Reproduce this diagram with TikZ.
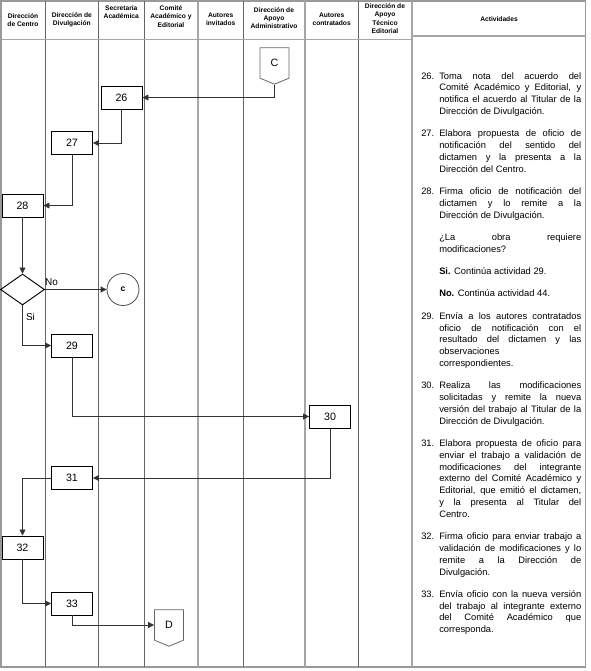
\documentclass[tikz,border=0pt]{standalone}
\usepackage{fontspec}
\setmainfont{Liberation Sans}
\usetikzlibrary{arrows.meta,shapes.geometric,shapes.symbols}

\newcommand{\actividad}[2]{\hangindent=13.5pt\hangafter=1\noindent\makebox[13.5pt][l]{#1}#2\par}
\newcommand{\nota}[1]{\hangindent=13.5pt\hangafter=0\noindent #1\par}

\tikzset{
  caja/.style={draw=black, line width=0.7pt, minimum width=30.75pt, minimum height=17.25pt,
    inner sep=0pt, font=\fontsize{8}{9.6}\selectfont},
  decision/.style={draw=black, line width=0.7pt, diamond, minimum width=33pt, minimum height=23.25pt,
    inner sep=0pt},
  circulo/.style={draw=black!70, line width=0.6pt, circle, minimum size=24pt, inner sep=0pt,
    font=\fontsize{6.5}{7}\selectfont\bfseries},
  conector/.style={draw=black!60, line width=0.6pt, signal, signal to=south, signal pointer angle=135,
    minimum width=21.75pt, minimum height=24pt, inner sep=0pt, font=\fontsize{8}{9.6}\selectfont},
  flecha/.style={draw=black!80, line width=0.6pt, -{Triangle[length=4.5pt,width=4.5pt]}},
  carril/.style={draw=black!60, line width=0.6pt},
  carril claro/.style={draw=black!35, line width=0.9pt},
  encabezado/.style={font=\fontsize{5}{6.2}\selectfont\bfseries, align=center, inner sep=0pt},
  etiqueta/.style={font=\fontsize{7.5}{9}\selectfont, inner sep=0pt},
  actividades/.style={anchor=base west, text width=120pt, align=justify, inner sep=0pt,
    font=\fontsize{7}{8.85}\selectfont}
}

\begin{document}
\begin{tikzpicture}[x=0.75pt, y=-0.75pt]
  \useasboundingbox (0,0) rectangle (590,671);

  % carriles
  \draw[draw=black!40, line width=1.1pt] (1,1) rectangle (585.7,667);
  \foreach \x in {45.3,98.3,144.3,243.3,358.3}
    \draw[carril] (\x,1) -- (\x,667);
  \foreach \x in {198,305,412}
    \draw[carril claro] (\x,1) -- (\x,667);
  \draw[carril claro] (1,39.5) -- (412,39.5);
  \draw[carril claro] (412,36) -- (585.7,36);

  % encabezados
  \node[encabezado] (h1) at (23,20) {Dirección\\de Centro};
  \node[encabezado] (h2) at (71.8,20) {Dirección de\\Divulgación};
  \node[encabezado] (h3) at (121.3,12) {Secretaria\\Académica};
  \node[encabezado] (h4) at (171,16.5) {Comité\\Académico y\\Editorial};
  \node[encabezado] (h5) at (220.7,19.5) {Autores\\invitados};
  \node[encabezado] (h6) at (274,18) {Dirección de\\Apoyo\\Administrativo};
  \node[encabezado] (h7) at (331.7,19.5) {Autores\\contratados};
  \node[encabezado] (h8) at (385,18.5) {Dirección de\\Apoyo\\Técnico\\Editorial};
  \node[encabezado] (h9) at (499,19) {Actividades};

  % diagrama
  \node[conector] (C) at (274.5,63) {C};
  \node[caja] (n26) at (121.5,97.5) {26};
  \node[caja] (n27) at (72,143) {27};
  \node[caja] (n28) at (22.5,205.5) {28};
  \node[decision] (dec) at (22.5,289.5) {};
  \node[circulo] (cc) at (123,289.5) {c};
  \node[caja] (n29) at (72,345.5) {29};
  \node[caja] (n30) at (330,416.5) {30};
  \node[caja] (n31) at (72,478) {31};
  \node[caja] (n32) at (22.5,547.5) {32};
  \node[caja] (n33) at (72,603.5) {33};
  \node[conector] (D) at (169,625) {D};

  \node[etiqueta] (no) at (51.5,282) {No};
  \node[etiqueta] (si) at (30.5,317) {Si};

  \draw[flecha] (C) |- (n26);
  \draw[flecha] (n26) |- (n27);
  \draw[flecha] (n27) |- (n28);
  \draw[flecha] (n28) -- (dec);
  \draw[flecha] (dec) -- (cc);
  \draw[flecha] (dec) |- (n29);
  \draw[flecha] (n29) |- (n30);
  \draw[flecha] (n30) |- (n31);
  \draw[flecha] (n31) -| (n32);
  \draw[flecha] (n32) |- (n33);
  \draw[flecha] (n33) |- (D);

  % actividades
  \node[actividades] (act) at (421,79) {\setlength{\parskip}{7.9pt}\tolerance=10000
    \actividad{26.}{Toma nota del acuerdo del\linebreak Comité Académico y Editorial, y\linebreak notifica el acuerdo al Titular de la\linebreak Dirección de Divulgación.}
    \actividad{27.}{Elabora propuesta de oficio de\linebreak notificación del sentido del\linebreak dictamen y la presenta a la\linebreak Dirección del Centro.}
    \actividad{28.}{Firma oficio de notificación del\linebreak dictamen y lo remite a la\linebreak Dirección de Divulgación.}
    \nota{¿La obra requiere\linebreak modificaciones?}
    \nota{\textbf{Si.} Continúa actividad 29.}
    \nota{\textbf{No.} Continúa actividad 44.}
    \actividad{29.}{Envía a los autores contratados\linebreak oficio de notificación con el\linebreak resultado del dictamen y las\linebreak observaciones\newline correspondientes.}
    \actividad{30.}{Realiza las modificaciones\linebreak solicitadas y remite la nueva\linebreak versión del trabajo al Titular de la\linebreak Dirección de Divulgación.}
    \actividad{31.}{Elabora propuesta de oficio para\linebreak enviar el trabajo a validación de\linebreak modificaciones del integrante\linebreak externo del Comité Académico y\linebreak Editorial, que emitió el dictamen,\linebreak y la presenta al Titular del\linebreak Centro.}
    \actividad{32.}{Firma oficio para enviar trabajo a\linebreak validación de modificaciones y lo\linebreak remite a la Dirección de\linebreak Divulgación.}
    \actividad{33.}{Envía oficio con la nueva versión\linebreak del trabajo al integrante externo\linebreak del Comité Académico que\linebreak corresponda.}
  };
\end{tikzpicture}
\end{document}
